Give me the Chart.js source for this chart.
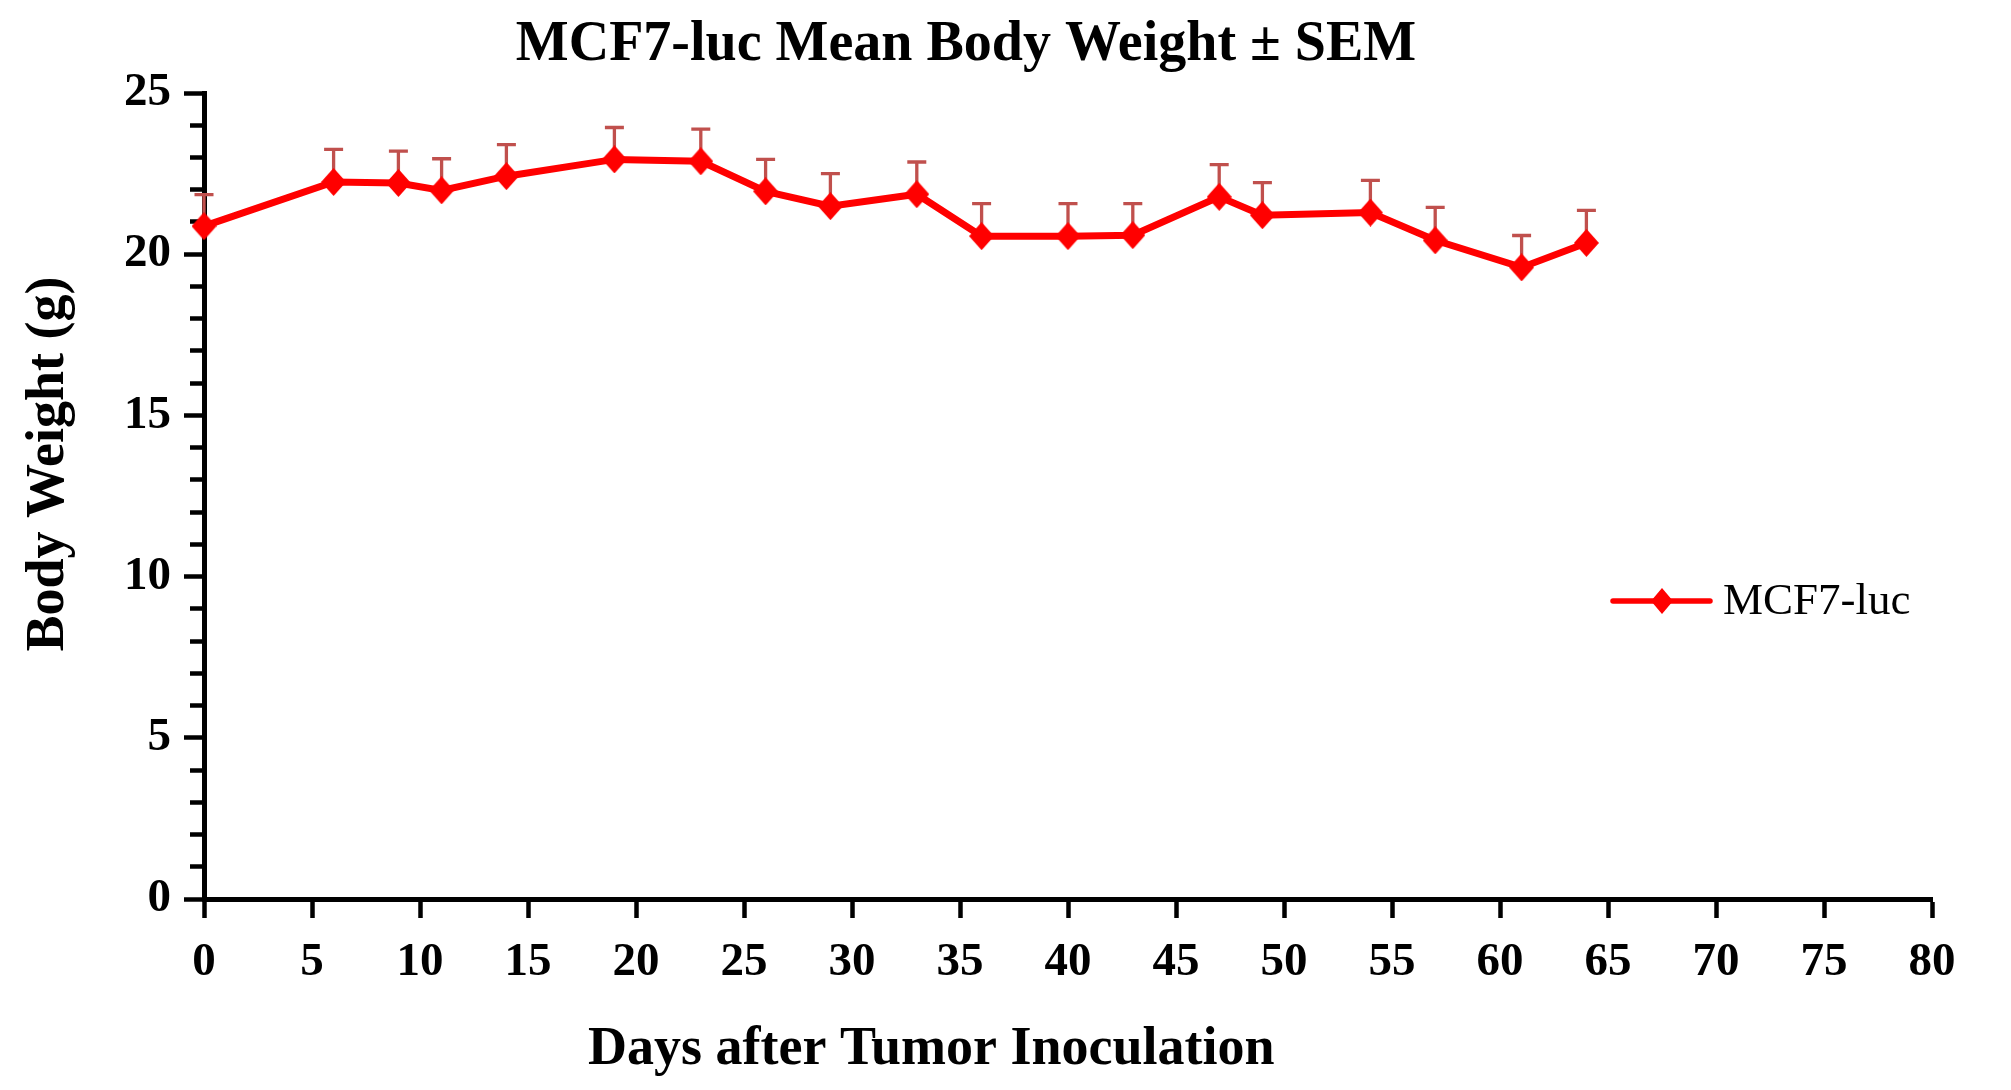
<!DOCTYPE html>
<html>
<head>
<meta charset="utf-8">
<script src="https://cdn.jsdelivr.net/npm/chart.js@4"></script>
<style>
html, body { margin: 0; padding: 0; background: #ffffff; overflow: hidden; }
canvas { display: block; }
</style>
</head>
<body>
<canvas id="c" width="2011" height="1090"></canvas>
<script>
// ---- data ----
const days = [0, 6, 9, 11, 14, 19, 23, 26, 29, 33, 36, 40, 43, 47, 49, 54, 57, 61, 64];
const meanWeight = [20.87, 22.24, 22.21, 21.98, 22.42, 22.94, 22.88, 21.95, 21.49, 21.86,
                    20.56, 20.56, 20.59, 21.78, 21.21, 21.29, 20.43, 19.59, 20.35];
const semWeight = [0.98, 1.01, 0.99, 0.98, 0.98, 0.99, 1.00, 0.99, 1.01, 1.00,
                   1.01, 1.01, 0.98, 1.00, 1.01, 1.00, 1.02, 0.99, 1.01];
const xTickLabels = ['0','5','10','15','20','25','30','35','40','45','50','55','60','65','70','75','80'];
const yTickLabels = ['0','5','10','15','20','25'];
const seriesLabel = 'MCF7-luc';
const chartTitle = 'MCF7-luc Mean Body Weight \u00B1 SEM';
const xAxisTitle = 'Days after Tumor Inoculation';
const yAxisTitle = 'Body Weight (g)';

const SERIF = '"Liberation Serif", "Times New Roman", serif';
const RED = '#FF0000';
const ERR = '#C0504D';

function diamond(w, h, color) {
  const c = document.createElement('canvas');
  c.width = w; c.height = h;
  const g = c.getContext('2d');
  g.fillStyle = color;
  g.beginPath();
  g.moveTo(w / 2, 0); g.lineTo(w, h / 2); g.lineTo(w / 2, h); g.lineTo(0, h / 2);
  g.closePath(); g.fill();
  return c;
}
const markerImg = diamond(25, 28, RED);

const errorBars = {
  id: 'errorBars',
  beforeDatasetsDraw(chart) {
    const { ctx, scales: { x, y } } = chart;
    ctx.save();
    ctx.strokeStyle = ERR;
    ctx.lineWidth = 3.3;
    ctx.lineCap = 'butt';
    days.forEach((d, i) => {
      const px = x.getPixelForValue(d);
      const py = y.getPixelForValue(meanWeight[i]);
      const pt = y.getPixelForValue(meanWeight[i] + semWeight[i]);
      ctx.beginPath();
      ctx.moveTo(px, py); ctx.lineTo(px, pt);
      ctx.moveTo(px - 9.5, pt); ctx.lineTo(px + 9.5, pt);
      ctx.stroke();
    });
    ctx.restore();
  }
};

const extraText = {
  id: 'extraText',
  afterDraw(chart) {
    const { ctx, chartArea } = chart;
    ctx.save();
    ctx.fillStyle = '#000';
    // y axis title
    ctx.font = 'bold 54px ' + SERIF;
    ctx.textAlign = 'center';
    ctx.textBaseline = 'middle';
    ctx.translate(49, 464);
    ctx.rotate(-Math.PI / 2);
    ctx.fillText(yAxisTitle, 0, 0);
    ctx.setTransform(1, 0, 0, 1, 0, 0);
    // x axis title
    ctx.textAlign = 'left';
    ctx.fillText(xAxisTitle, 588, 1050);
    // legend
    const ds = chart.data.datasets[0];
    const lx = chartArea.right - 319, ly = 601;
    ctx.strokeStyle = ds.borderColor;
    ctx.lineWidth = 5.5;
    ctx.lineCap = 'round';
    ctx.beginPath(); ctx.moveTo(lx, ly); ctx.lineTo(lx + 97, ly); ctx.stroke();
    ctx.drawImage(diamond(22, 26, RED), lx + 49 - 11, ly - 13);
    ctx.font = '45px ' + SERIF;
    ctx.textBaseline = 'middle';
    ctx.fillText(ds.label, lx + 110, ly + 1);
    ctx.restore();
  }
};

new Chart(document.getElementById('c'), {
  type: 'line',
  data: {
    datasets: [{
      label: seriesLabel,
      data: days.map((d, i) => ({ x: d, y: meanWeight[i] })),
      borderColor: RED,
      backgroundColor: RED,
      borderWidth: 7,
      tension: 0,
      pointStyle: markerImg,
      pointRadius: 13,
      pointHoverRadius: 13,
      clip: false
    }]
  },
  options: {
    responsive: false,
    devicePixelRatio: 1,
    animation: false,
    layout: { padding: { left: 0, right: 79, top: 0, bottom: 0 } },
    plugins: {
      legend: { display: false },
      tooltip: { enabled: false },
      title: {
        display: true,
        text: chartTitle,
        color: '#000',
        font: { family: SERIF, size: 56, weight: 'bold', lineHeight: 1.2 },
        padding: { top: 12, bottom: 13.8 }
      }
    },
    scales: {
      x: {
        type: 'linear',
        min: 0, max: 80,
        afterFit(scale) { scale.height = 191; },
        border: { display: true, color: '#000', width: 5 },
        grid: { display: true, drawOnChartArea: false, drawTicks: true, tickLength: 19, tickWidth: 4.5, tickColor: '#000' },
        ticks: {
          stepSize: 5,
          autoSkip: false,
          maxRotation: 0,
          color: '#000',
          padding: 17,
          font: { family: SERIF, size: 47, weight: 'bold', lineHeight: 1.2 },
          callback: (v) => xTickLabels[xTickLabels.indexOf(String(v))] ?? ''
        }
      },
      y: {
        type: 'linear',
        min: 0, max: 25,
        afterFit(scale) { scale.width = 204; },
        border: { display: true, color: '#000', width: 5 },
        grid: {
          display: true, drawOnChartArea: false, drawTicks: true, tickLength: 20,
          tickWidth: 4.5, tickColor: '#000',
          tickBorderDash: (ctx) => (ctx.tick && ctx.tick.value % 5 === 0) ? [] : [0, 6, 100]
        },
        ticks: {
          stepSize: 1,
          autoSkip: false,
          color: '#000',
          padding: 13,
          font: { family: SERIF, size: 47, weight: 'bold', lineHeight: 1.2 },
          callback: (v) => yTickLabels.includes(String(v)) ? String(v) : ''
        }
      }
    }
  },
  plugins: [errorBars, extraText]
});
</script>
</body>
</html>
